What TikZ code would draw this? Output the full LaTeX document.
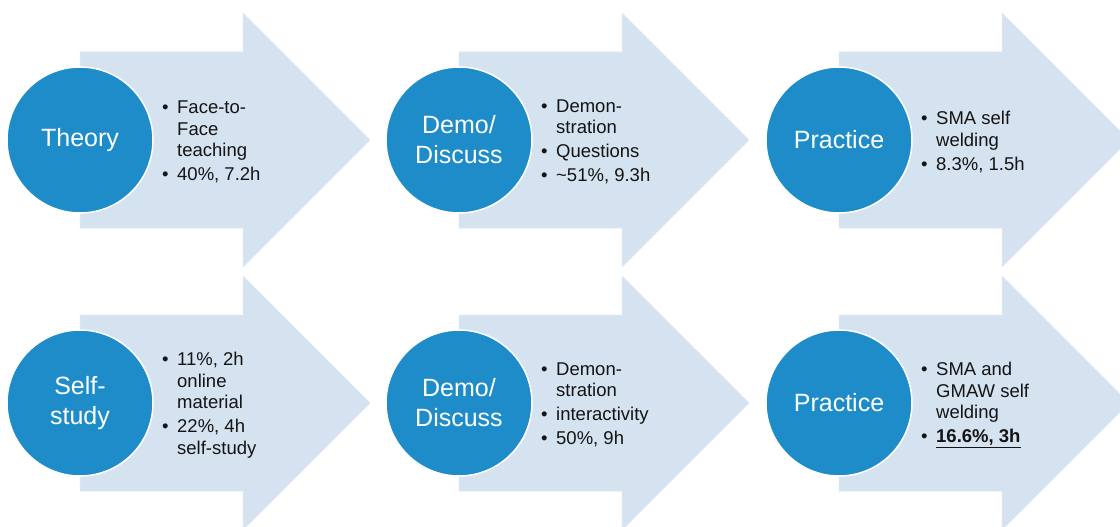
\documentclass[tikz,border=0pt]{standalone}
\usepackage{fontspec}
\setmainfont{Liberation Sans}
\definecolor{arrowfill}{RGB}{213,226,240}
\definecolor{arrowedge}{RGB}{228,236,246}
\definecolor{circfill}{RGB}{30,140,200}
\definecolor{txt}{RGB}{20,20,20}
\newcommand{\bl}{\makebox[15pt][l]{•}}
\newcommand{\ind}{\hspace*{15pt}}
\tikzset{
  bigarrow/.style={fill=arrowfill, draw=arrowedge, line width=1pt, densely dotted},
  phase/.style={circle, fill=circfill, draw=white, line width=1.5pt, minimum size=146pt,
    inner sep=0pt, text=white, font=\fontsize{25}{30}\selectfont, align=center},
  info/.style={anchor=west, align=left, inner sep=0pt, text=txt,
    font=\fontsize{18.5}{21.5}\selectfont},
}
\newcommand{\bigarr}[2]{%
  \begin{scope}[shift={(#1,#2)}]
    \fill[arrowfill] (0,-88) -- (163,-88) -- (163,-127) -- (290,0) -- (163,127) -- (163,88) -- (0,88) -- cycle;
    \draw[bigarrow] (0,-88) -- (163,-88) -- (163,-127) -- (290,0) -- (163,127) -- (163,88) -- (0,88) -- cycle;
  \end{scope}}
\begin{document}
\begin{tikzpicture}[x=1pt,y=-1pt]
\useasboundingbox (0,0) rectangle (1120,527);
\fill[white] (0,0) rectangle (1120,527);
\clip (0,0) rectangle (1120,527);
% top row
\bigarr{80}{140}
\bigarr{459}{140}
\bigarr{839}{140}
% bottom row
\bigarr{80}{403}
\bigarr{459}{403}
\bigarr{839}{403}

\node[phase] (c1) at (80,140) {Theory};
\node[phase] (c2) at (459,140) {Demo/\\Discuss};
\node[phase] (c3) at (839,140) {Practice};
\node[phase] (c4) at (80,403) {Self-\\study};
\node[phase] (c5) at (459,403) {Demo/\\Discuss};
\node[phase] (c6) at (839,403) {Practice};

\node[info] (t1) at (162,142) {\bl Face-to-\\\ind Face\\\ind teaching\\[2.5pt]\bl 40\%, 7.2h};
\node[info] (t2) at (541,142) {\bl Demon-\\\ind stration\\[2.5pt]\bl Questions\\[2.5pt]\bl \textasciitilde51\%, 9.3h};
\node[info] (t3) at (921,142) {\bl SMA self\\\ind welding\\[2.5pt]\bl 8.3\%, 1.5h};
\node[info] (t4) at (162,405) {\bl 11\%, 2h\\\ind online\\\ind material\\[2.5pt]\bl 22\%, 4h\\\ind self-study};
\node[info] (t5) at (541,405) {\bl Demon-\\\ind stration\\[2.5pt]\bl interactivity\\[2.5pt]\bl 50\%, 9h};
\node[info] (t6) at (921,405) {\bl SMA and\\\ind GMAW self\\\ind welding\\[2.5pt]\bl \textbf{\underline{16.6\%, 3h}}};
\end{tikzpicture}
\end{document}
